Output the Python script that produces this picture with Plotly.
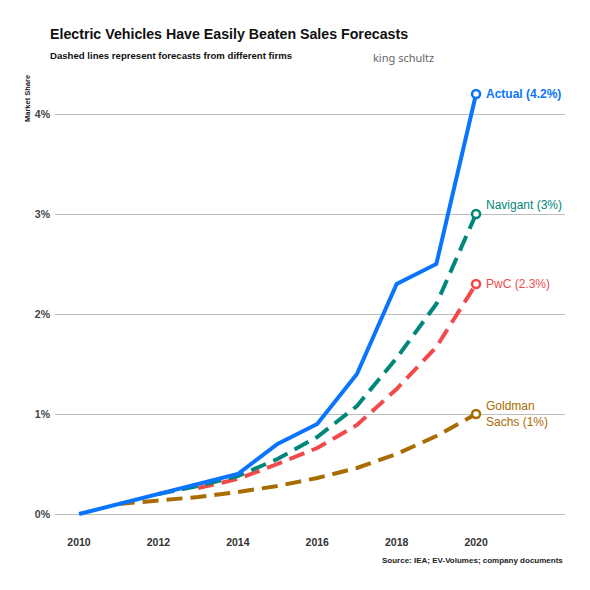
import plotly.graph_objects as go

years = [2010, 2011, 2012, 2013, 2014, 2015, 2016, 2017, 2018, 2019, 2020]
actual = [0.0, 0.1, 0.2, 0.3, 0.4, 0.7, 0.9, 1.4, 2.3, 2.5, 4.2]

navigant_years = [2012, 2013, 2014, 2015, 2016, 2017, 2018, 2019, 2020]
navigant = [0.2, 0.28, 0.38, 0.55, 0.77, 1.08, 1.56, 2.1, 3.0]

pwc_years = [2013, 2014, 2015, 2016, 2017, 2018, 2019, 2020]
pwc = [0.26, 0.35, 0.5, 0.66, 0.89, 1.25, 1.67, 2.3]

goldman_years = [2011, 2012, 2013, 2014, 2015, 2016, 2017, 2018, 2019, 2020]
goldman = [0.1, 0.13, 0.17, 0.22, 0.28, 0.36, 0.46, 0.6, 0.78, 1.0]

x_ticks = [2010, 2012, 2014, 2016, 2018, 2020]
y_ticks = [0, 1, 2, 3, 4]
y_tick_labels = ["0%", "1%", "2%", "3%", "4%"]

series = [
    ("Goldman<br>Sachs (1%)", goldman_years, goldman, "#a86c00", "dash", False, 0),
    ("PwC (2.3%)", pwc_years, pwc, "#f24a4a", "dash", False, 0),
    ("Navigant (3%)", navigant_years, navigant, "#00877a", "dash", False, 9),
    ("Actual (4.2%)", years, actual, "#0a74ff", "solid", True, 0),
]

FONT = "Liberation Sans, Arial, sans-serif"
fig = go.Figure()
annotations = []
for label, xs, ys, color, dash, bold, up in series:
    fig.add_trace(go.Scatter(
        x=xs, y=ys, mode="lines",
        line=dict(color=color, width=4, dash=("16px,8px" if dash == "dash" else "solid")),
        hoverinfo="skip", showlegend=False))
for label, xs, ys, color, dash, bold, up in series:
    fig.add_trace(go.Scatter(
        x=[xs[-1]], y=[ys[-1]], mode="markers",
        marker=dict(size=8, color="white", line=dict(color=color, width=2.5)),
        hoverinfo="skip", showlegend=False))
    txt = f"<b>{label}</b>" if bold else label
    annotations.append(dict(
        x=xs[-1], y=ys[-1], xref="x", yref="y", text=txt, showarrow=False,
        xanchor="left", yanchor="middle", xshift=8, yshift=up,
        font=dict(family=FONT, size=12, color=color), align="left"))

annotations += [
    dict(x=0, y=1, xref="paper", yref="paper", xshift=-7, yshift=45,
         text="<b>Electric Vehicles Have Easily Beaten Sales Forecasts</b>",
         showarrow=False, xanchor="left", yanchor="middle",
         font=dict(family=FONT, size=14.2, color="#111")),
    dict(x=0, y=1, xref="paper", yref="paper", xshift=-7, yshift=24,
         text="<b>Dashed lines represent forecasts from different firms</b>",
         showarrow=False, xanchor="left", yanchor="middle",
         font=dict(family=FONT, size=9.6, color="#111")),
    dict(x=0, y=1, xref="paper", yref="paper", xshift=316, yshift=22,
         text="king schultz", showarrow=False, xanchor="left", yanchor="middle",
         font=dict(family="Noto Sans, sans-serif", size=11, color="#666")),
    dict(x=0, y=4.15, xref="paper", yref="y", xshift=-28,
         text="<b>Market Share</b>", showarrow=False, textangle=-90,
         xanchor="center", yanchor="middle",
         font=dict(family=FONT, size=7.5, color="#222")),
    dict(x=1, y=0, xref="paper", yref="paper", xshift=0, yshift=-26,
         text="<b>Source: IEA; EV-Volumes; company documents</b>",
         showarrow=False, xanchor="right", yanchor="middle",
         font=dict(family=FONT, size=8, color="#222")),
]

fig.update_layout(
    width=582, height=582,
    margin=dict(l=47, r=25, t=71, b=56),
    paper_bgcolor="white", plot_bgcolor="white",
    annotations=annotations,
    xaxis=dict(range=[2009.395, 2022.24], tickvals=x_ticks,
               ticktext=[f"<b>{v}</b>" for v in x_ticks],
               showgrid=False, zeroline=False, showline=False, ticks="",
               tickfont=dict(family=FONT, size=10.5, color="#333"), fixedrange=True),
    yaxis=dict(range=[-0.2, 4.35], tickvals=y_ticks,
               ticktext=[f"<b>{t}</b>" for t in y_tick_labels],
               showgrid=True, gridcolor="#bdbdbd", gridwidth=1.2,
               zeroline=False, showline=False, ticks="", ticklabelstandoff=4,
               tickfont=dict(family=FONT, size=10.5, color="#444"), fixedrange=True),
)

fig.write_html("out.html")
